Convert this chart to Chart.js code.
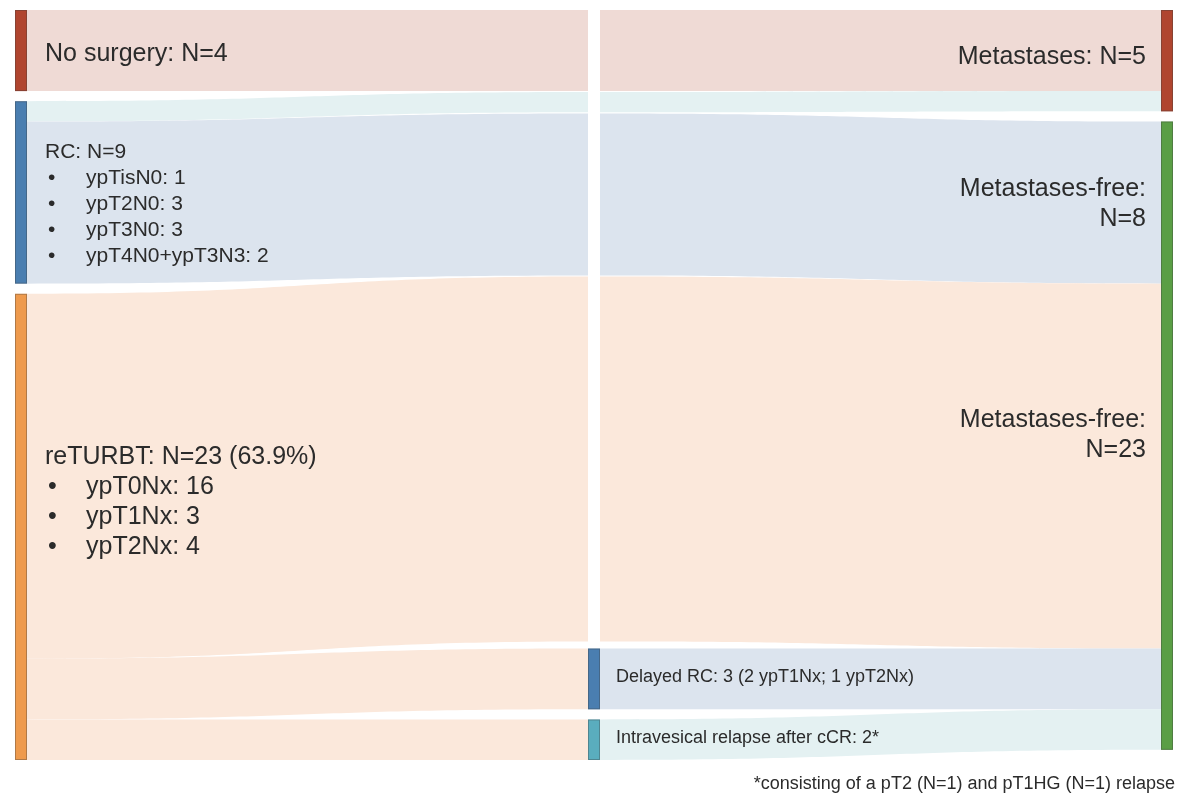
<!DOCTYPE html>
<html>
<head>
<meta charset="utf-8">
<script src="https://cdn.jsdelivr.net/npm/chart.js@4"></script>
<style>
  html, body { margin: 0; padding: 0; background: #ffffff; }
  #wrap { width: 1200px; height: 803px; position: relative; }
</style>
</head>
<body>
<div id="wrap"><canvas id="c" width="1200" height="803"></canvas></div>
<script>
// ---------------- DATA ----------------
const nodeIds     = ['noSurgery','rc','returbt','midNoSurgery','midRcMeta','midRcFree','midReturbtFree','delayedRc','intravesical','metastases','metastasesFree'];
const nodeColumn  = [0,0,0,1,1,1,1,1,1,2,2];
const nodeVisible = [true,true,true,false,false,false,false,true,true,true,true];

const linkFrom  = ['noSurgery','rc','rc','returbt','returbt','returbt','midNoSurgery','midRcMeta','midRcFree','midReturbtFree','delayedRc','intravesical'];
const linkTo    = ['midNoSurgery','midRcMeta','midRcFree','midReturbtFree','delayedRc','intravesical','metastases','metastases','metastasesFree','metastasesFree','metastasesFree','metastasesFree'];
const linkValue = [4,1,8,18,3,2,4,1,8,18,3,2];

const labelNoSurgery   = ['No surgery: N=4'];
const labelRC          = ['RC: N=9', 'ypTisN0: 1', 'ypT2N0: 3', 'ypT3N0: 3', 'ypT4N0+ypT3N3: 2'];
const labelReturbt     = ['reTURBT: N=23 (63.9%)', 'ypT0Nx: 16', 'ypT1Nx: 3', 'ypT2Nx: 4'];
const labelMetastases  = ['Metastases: N=5'];
const labelFreeRC      = ['Metastases-free:', 'N=8'];
const labelFreeReturbt = ['Metastases-free:', 'N=23'];
const labelDelayed     = ['Delayed RC: 3 (2 ypT1Nx; 1 ypT2Nx)'];
const labelRelapse     = ['Intravesical relapse after cCR: 2*'];
const footnote         = '*consisting of a pT2 (N=1) and pT1HG (N=1) relapse';

// ---------------- STYLE ----------------
const nodeColors = {
  noSurgery: '#b0452f', rc: '#4a7eb0', returbt: '#ee9a4d',
  delayedRc: '#4a7eb0', intravesical: '#5aadbe',
  metastases: '#b0452f', metastasesFree: '#5a9e45'
};
const PINK = '#efdad5', TEAL = '#e4f1f2', BLUE = '#dce4ee', ORANGE = '#fbe8db';
const linkColors = [PINK, TEAL, BLUE, ORANGE, ORANGE, ORANGE, PINK, TEAL, BLUE, ORANGE, BLUE, TEAL];
const FONT = '"Liberation Sans", Arial, sans-serif';
const TEXT = '#2b2b2b';
const NODE_W = 12;
const GAP_VISIBLE = 0.5;   // gap between nodes, in patient units
const GAP_HIDDEN = 0.05;

// ---------------- LAYOUT (computed from values) ----------------
const nodeValue = nodeIds.map(id => {
  let inSum = 0, outSum = 0;
  linkValue.forEach((v, i) => { if (linkTo[i] === id) inSum += v; if (linkFrom[i] === id) outSum += v; });
  return Math.max(inSum, outSum);
});
const colTotal = c => {
  let t = 0, n = 0;
  nodeIds.forEach((id, i) => { if (nodeColumn[i] === c) { t += nodeValue[i]; n++; } });
  return t + (n - 1) * GAP_VISIBLE;
};
const Y_MAX = Math.max(colTotal(0), colTotal(2));

const nodeTop = new Array(nodeIds.length).fill(0);
[0, 2].forEach(c => {
  let y = 0;
  nodeIds.forEach((id, i) => { if (nodeColumn[i] === c) { nodeTop[i] = y; y += nodeValue[i] + GAP_VISIBLE; } });
});
// middle column: hidden pass-through nodes stacked from top, visible ones from bottom
{
  let y = 0;
  nodeIds.forEach((id, i) => { if (nodeColumn[i] === 1 && !nodeVisible[i]) { nodeTop[i] = y; y += nodeValue[i] + GAP_HIDDEN; } });
  let yb = Y_MAX;
  for (let i = nodeIds.length - 1; i >= 0; i--) {
    if (nodeColumn[i] === 1 && nodeVisible[i]) { yb -= nodeValue[i]; nodeTop[i] = yb; yb -= GAP_VISIBLE; }
  }
}
const idx = id => nodeIds.indexOf(id);
const outOff = nodeTop.slice(), inOff = nodeTop.slice();
const linkSrcTop = [], linkTgtTop = [];
linkValue.forEach((v, i) => {
  const s = idx(linkFrom[i]), t = idx(linkTo[i]);
  linkSrcTop.push(outOff[s]); outOff[s] += v;
  linkTgtTop.push(inOff[t]);  inOff[t] += v;
});

// ---------------- DRAWING PLUGIN ----------------
const sankeyPlugin = {
  id: 'sankey',
  beforeDatasetsDraw(chart) {
    const ctx = chart.ctx, xs = chart.scales.x, ys = chart.scales.y;
    const half = NODE_W / 2;

    // flows
    linkValue.forEach((v, i) => {
      const s = idx(linkFrom[i]), t = idx(linkTo[i]);
      const x0 = xs.getPixelForValue(nodeColumn[s]) + half;
      const x1 = xs.getPixelForValue(nodeColumn[t]) - half;
      const xm = (x0 + x1) / 2;
      const y0t = ys.getPixelForValue(linkSrcTop[i]), y0b = ys.getPixelForValue(linkSrcTop[i] + v);
      const y1t = ys.getPixelForValue(linkTgtTop[i]), y1b = ys.getPixelForValue(linkTgtTop[i] + v);
      ctx.save();
      ctx.beginPath();
      ctx.moveTo(x0, y0t);
      ctx.bezierCurveTo(xm, y0t, xm, y1t, x1, y1t);
      ctx.lineTo(x1, y1b);
      ctx.bezierCurveTo(xm, y1b, xm, y0b, x0, y0b);
      ctx.closePath();
      ctx.fillStyle = linkColors[i];
      ctx.fill();
      ctx.restore();
    });

    // nodes
    nodeIds.forEach((id, i) => {
      if (!nodeVisible[i]) return;
      const xc = xs.getPixelForValue(nodeColumn[i]);
      const yt = ys.getPixelForValue(nodeTop[i]), yb = ys.getPixelForValue(nodeTop[i] + nodeValue[i]);
      ctx.save();
      ctx.fillStyle = nodeColors[id];
      ctx.fillRect(xc - half, yt, NODE_W, yb - yt);
      ctx.strokeStyle = 'rgba(60,60,60,0.35)';
      ctx.lineWidth = 1;
      ctx.strokeRect(xc - half + 0.5, yt + 0.5, NODE_W - 1, yb - yt - 1);
      ctx.restore();
    });

    // labels
    const nodeBox = id => {
      const i = idx(id), xc = xs.getPixelForValue(nodeColumn[i]);
      return { l: xc - half, r: xc + half,
               cy: (ys.getPixelForValue(nodeTop[i]) + ys.getPixelForValue(nodeTop[i] + nodeValue[i])) / 2 };
    };
    const linkTargetCenter = i =>
      (ys.getPixelForValue(linkTgtTop[i]) + ys.getPixelForValue(linkTgtTop[i] + linkValue[i])) / 2;

    const drawBlock = (lines, opts) => {
      ctx.save();
      ctx.font = opts.size + 'px ' + FONT;
      ctx.fillStyle = TEXT;
      ctx.textBaseline = 'middle';
      const n = lines.length;
      const y0 = opts.cy - (n - 1) * opts.lh / 2;
      lines.forEach((t, k) => {
        const y = y0 + k * opts.lh;
        if (opts.bullets && k > 0) {
          ctx.textAlign = 'left';
          ctx.fillText('\u2022', opts.x + 3, y);
          ctx.fillText(t, opts.x + 41, y);
        } else {
          ctx.textAlign = opts.align;
          ctx.fillText(t, opts.x, y);
        }
      });
      ctx.restore();
    };

    const ns = nodeBox('noSurgery');
    drawBlock(labelNoSurgery, { x: ns.r + 18, cy: ns.cy + 4, lh: 30, size: 25, align: 'left' });
    const rc = nodeBox('rc');
    drawBlock(labelRC, { x: rc.r + 18, cy: rc.cy + 12, lh: 26, size: 21, align: 'left', bullets: true });
    const tu = nodeBox('returbt');
    drawBlock(labelReturbt, { x: tu.r + 18, cy: tu.cy - 25, lh: 30, size: 25, align: 'left', bullets: true });
    const me = nodeBox('metastases');
    drawBlock(labelMetastases, { x: me.l - 15, cy: me.cy - 4, lh: 30, size: 25, align: 'right' });
    drawBlock(labelFreeRC, { x: me.l - 15, cy: linkTargetCenter(8) + 2, lh: 30, size: 25, align: 'right' });
    drawBlock(labelFreeReturbt, { x: me.l - 15, cy: linkTargetCenter(9) - 31, lh: 30, size: 25, align: 'right' });
    const dr = nodeBox('delayedRc');
    drawBlock(labelDelayed, { x: dr.r + 16, cy: dr.cy - 2, lh: 22, size: 18, align: 'left' });
    const iv = nodeBox('intravesical');
    drawBlock(labelRelapse, { x: iv.r + 16, cy: iv.cy - 2, lh: 22, size: 18, align: 'left' });

    ctx.save();
    ctx.font = '18px ' + FONT;
    ctx.fillStyle = TEXT;
    ctx.textAlign = 'right';
    ctx.textBaseline = 'middle';
    ctx.fillText(footnote, me.r + 2, ys.getPixelForValue(Y_MAX) + 24);
    ctx.restore();
  }
};

new Chart(document.getElementById('c'), {
  type: 'scatter',
  data: { datasets: [{ data: [], pointRadius: 0 }] },
  options: {
    responsive: false,
    animation: false,
    events: [],
    layout: { padding: { left: 21, right: 33, top: 10, bottom: 43 } },
    scales: {
      x: { type: 'linear', min: 0, max: 2, display: false },
      y: { type: 'linear', min: 0, max: Y_MAX, reverse: true, display: false }
    },
    plugins: { legend: { display: false }, tooltip: { enabled: false }, title: { display: false } }
  },
  plugins: [sankeyPlugin]
});
</script>
</body>
</html>
